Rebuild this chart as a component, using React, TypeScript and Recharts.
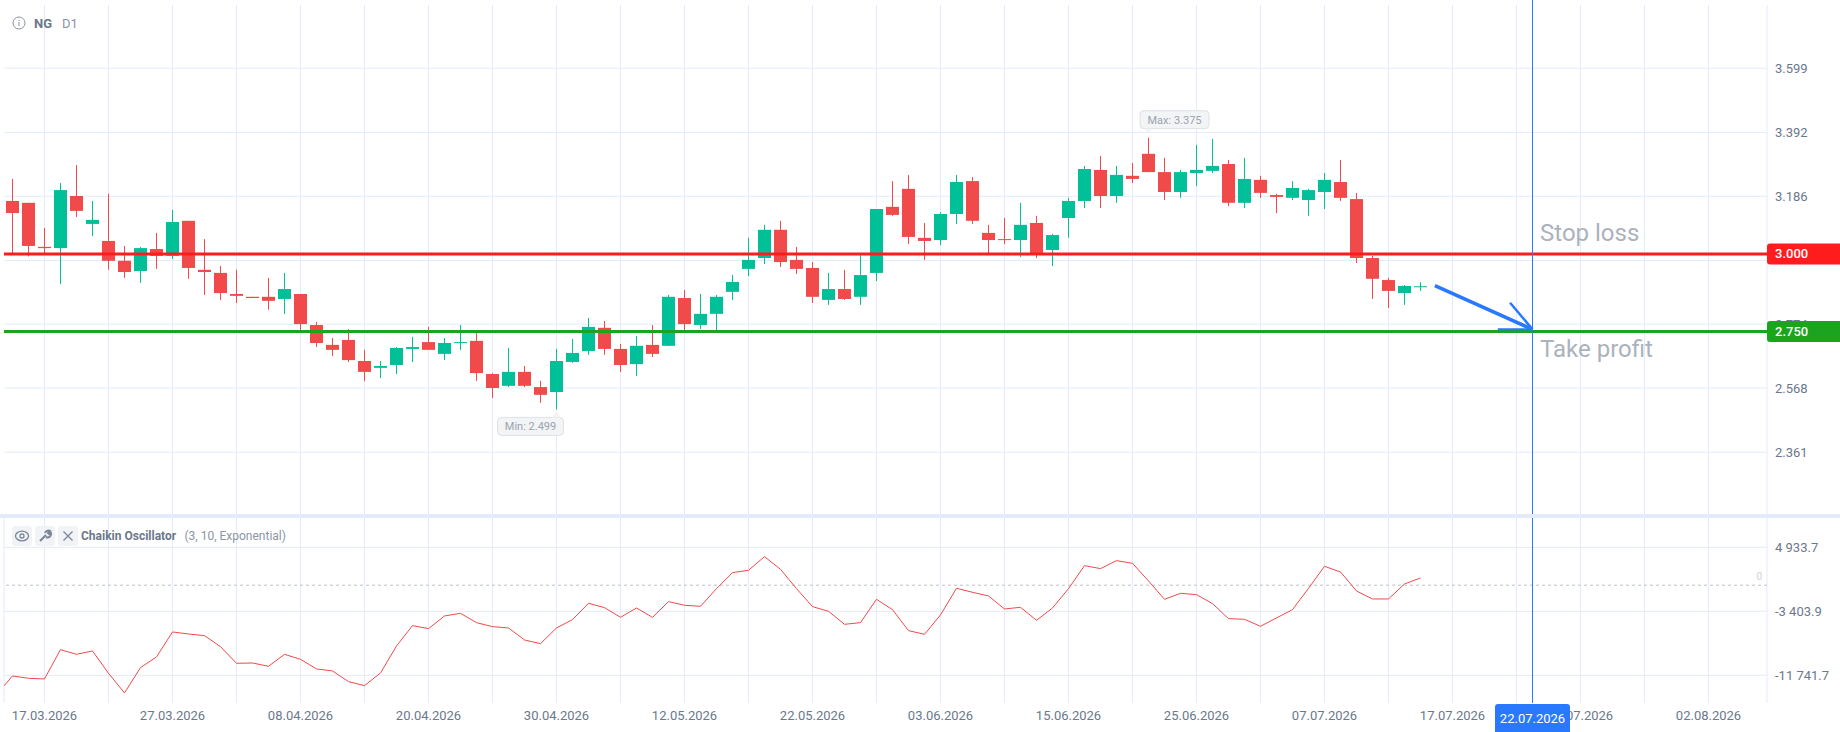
import { Bar, CartesianGrid, ComposedChart, Line, ReferenceDot, ReferenceLine, XAxis, YAxis } from 'recharts';

// candle values, index 0 is the first candle on the left
const opens = [
  3.171, 3.165, 3.023, 3.019, 3.187, 3.097, 3.042, 2.978, 2.945, 3.016, 2.994, 3.107, 2.949, 2.939, 2.871,
  2.862, 2.862, 2.855, 2.871, 2.771, 2.707, 2.723, 2.655, 2.633, 2.642, 2.694, 2.716, 2.678, 2.713, 2.72,
  2.613, 2.575, 2.62, 2.571, 2.555, 2.652, 2.687, 2.762, 2.694, 2.645, 2.707, 2.704, 2.858, 2.771, 2.807,
  2.878, 2.952, 2.987, 3.078, 2.981, 2.955, 2.852, 2.887, 2.862, 2.939, 3.152, 3.21, 3.052, 3.045, 3.129,
  3.235, 3.068, 3.048, 3.045, 3.1, 3.013, 3.116, 3.171, 3.271, 3.187, 3.252, 3.323, 3.264, 3.2, 3.261,
  3.268, 3.29, 3.165, 3.239, 3.19, 3.181, 3.174, 3.2, 3.232, 3.177, 2.987, 2.916, 2.874, 2.893,
];
const closes = [
  3.132, 3.026, 3.019, 3.206, 3.139, 3.11, 2.978, 2.942, 3.019, 2.994, 3.103, 2.955, 2.942, 2.874, 2.865,
  2.858, 2.849, 2.887, 2.774, 2.713, 2.691, 2.658, 2.62, 2.639, 2.697, 2.7, 2.691, 2.713, 2.716, 2.616,
  2.568, 2.62, 2.575, 2.546, 2.655, 2.681, 2.765, 2.694, 2.642, 2.704, 2.678, 2.862, 2.774, 2.807, 2.862,
  2.91, 2.981, 3.078, 2.974, 2.952, 2.862, 2.887, 2.855, 2.932, 3.145, 3.126, 3.055, 3.042, 3.129, 3.232,
  3.107, 3.045, 3.045, 3.094, 3.002, 3.061, 3.171, 3.274, 3.187, 3.255, 3.242, 3.264, 3.2, 3.264, 3.271,
  3.284, 3.165, 3.242, 3.197, 3.184, 3.213, 3.206, 3.239, 3.181, 2.987, 2.92, 2.881, 2.897, 2.896,
];
const highs = [
  3.242, 3.165, 3.084, 3.229, 3.287, 3.171, 3.194, 3.026, 3.023, 3.068, 3.142, 3.107, 3.048, 2.961, 2.949,
  2.862, 2.923, 2.939, 2.871, 2.781, 2.729, 2.758, 2.691, 2.655, 2.7, 2.733, 2.765, 2.729, 2.771, 2.745,
  2.616, 2.697, 2.639, 2.591, 2.694, 2.726, 2.794, 2.784, 2.71, 2.736, 2.771, 2.868, 2.884, 2.871, 2.868,
  2.932, 3.052, 3.094, 3.107, 3.023, 2.974, 2.939, 2.949, 2.997, 3.145, 3.235, 3.255, 3.1, 3.135, 3.255,
  3.248, 3.094, 3.116, 3.165, 3.123, 3.065, 3.181, 3.284, 3.316, 3.284, 3.293, 3.375, 3.31, 3.271, 3.352,
  3.371, 3.303, 3.31, 3.252, 3.194, 3.235, 3.21, 3.261, 3.303, 3.197, 2.994, 2.923, 2.9, 2.909,
];
const lows = [
  3.002, 2.992, 3.002, 2.903, 3.119, 3.058, 2.949, 2.923, 2.907, 2.952, 2.984, 2.92, 2.868, 2.852, 2.842,
  2.858, 2.82, 2.807, 2.755, 2.7, 2.671, 2.652, 2.591, 2.6, 2.613, 2.652, 2.691, 2.658, 2.691, 2.591,
  2.536, 2.571, 2.571, 2.52, 2.499, 2.649, 2.675, 2.675, 2.62, 2.607, 2.668, 2.704, 2.755, 2.758, 2.755,
  2.852, 2.929, 2.968, 2.958, 2.936, 2.842, 2.836, 2.852, 2.836, 2.913, 3.123, 3.032, 2.981, 3.029, 3.097,
  3.097, 3.002, 3.032, 2.99, 2.987, 2.961, 3.052, 3.148, 3.148, 3.165, 3.229, 3.264, 3.174, 3.181, 3.219,
  3.261, 3.155, 3.148, 3.181, 3.132, 3.174, 3.123, 3.145, 3.171, 2.971, 2.855, 2.826, 2.836, 2.881,
];

// first value belongs to the bar just left of the visible area
const oscValues = [
  -14260, -11828, -12132, -12219, -8398, -9006, -8571, -11481, -14043, -10743, -9353, -6096, -6357, -6574, -8007,
  -10178, -10135, -10569, -9006, -9657, -10916, -11177, -12567, -13088, -11438, -7920, -5271, -5662, -4012, -3664,
  -4880, -5401, -5575, -7138, -7616, -5575, -4489, -2362, -2926, -4186, -2970, -4186, -2144, -2622, -2752,
  -451, 1633, 1937, 3718, 2068, -451, -2796, -3404, -5097, -4880, -1841, -3186, -5923, -6400, -3881,
  -408, -929, -1406, -3100, -2883, -4576, -2970, -451, 2545, 2154, 3197, 2849, 548, -1841, -1059,
  -1233, -2405, -4359, -4446, -5358, -4272, -3186, -408, 2459, 1720, -755, -1797, -1797, 157, 939,
];

const priceTicks = [3.599, 3.392, 3.186, 2.979, 2.774, 2.568, 2.361];
const hiddenPriceTick = 2.979; // sits behind the stop loss tag in the original
const oscTicks = [4933.7, -3403.9, -11741.7];
const oscTickLabels = ['4 933.7', '-3 403.9', '-11 741.7'];

const gridTicks = [2, 6, 10, 14, 18, 22, 26, 30, 34, 38, 42, 46, 50, 54, 58, 62, 66, 70, 74, 78, 82, 86, 90, 94, 98, 102, 106];
const dateTicks = [2, 10, 18, 26, 34, 42, 50, 58, 66, 74, 82, 90, 98, 106];
const dateLabels = [
  '17.03.2026', '27.03.2026', '08.04.2026', '20.04.2026', '30.04.2026', '12.05.2026', '22.05.2026',
  '03.06.2026', '15.06.2026', '25.06.2026', '07.07.2026', '17.07.2026', '27.07.2026', '02.08.2026',
];

const stopLoss = 3.0;
const takeProfit = 2.75;
const maxIndex = 71;
const minIndex = 34;
const cursorIndex = 95;

const X_DOMAIN: [number, number] = [-0.53125, 109.65625];
const PRICE_DOMAIN: [number, number] = [2.1618, 3.8027];
const OSC_DOMAIN: [number, number] = [-15350, 8751];

const GRID = '#E3EAF9';
const RED = '#F14A4A';
const GREEN = '#00BF99';
const BLUE = '#2979FF';
const TEXT = '#6B788C';
const FONT = 'Roboto, sans-serif';
const TOP_LAYER = 3000;

const candles = opens.map((o, i) => ({
  i,
  body: [Math.min(o, closes[i]), Math.max(o, closes[i])],
  wick: [lows[i], highs[i]],
  up: closes[i] >= o,
}));
const oscData = oscValues.map((osc, k) => ({ i: k - 1, osc }));

const CandlePart = (props: any) => {
  const { x, y, width, height, payload } = props;
  return <rect x={x + 0.5} y={y} width={width} height={Math.max(height, 1)} fill={payload.up ? GREEN : RED} />;
};

const PriceTag = ({ cx, cy, fill, text }: any) => (
  <g>
    <rect x={cx} y={cy - 10.5} width={80} height={21} rx={3} fill={fill} />
    <text x={cx + 8} y={cy + 4.5} fontSize={13} fontWeight={500} fontFamily={FONT} fill="#fff">{text}</text>
  </g>
);

const Bubble = ({ left, top, tipX, tipY, width, text }: any) => (
  <g>
    <rect x={left} y={top} width={width} height={18} rx={4} fill="#F3F4F6" stroke="#DDE0E5" />
    <path d={`M${tipX - 4} ${tipY > top ? top + 18 : top} L${tipX} ${tipY} L${tipX + 4} ${tipY > top ? top + 18 : top} Z`} fill="#F3F4F6" />
    <text x={left + width / 2} y={top + 13} textAnchor="middle" fontSize={11} fontFamily={FONT} fill="#9AA3AE">{text}</text>
  </g>
);

const Note = ({ cx, cy, text }: any) => (
  <text x={cx} y={cy} dominantBaseline="central" fontSize={24} fontFamily={FONT} fill="#ABB2BD">{text}</text>
);

const IconBox = ({ left, children }: any) => (
  <div style={{ position: 'absolute', left, top: 526, width: 20, height: 20, background: '#F1F3F6', borderRadius: 3 }}>
    <svg width={20} height={20} viewBox="0 0 20 20" fill="none" stroke="#7B8798" strokeWidth={1.3}>{children}</svg>
  </div>
);

export default function App() {
  return (
    <div style={{ position: 'absolute', left: 0, top: 0, width: 1840, height: 732, background: '#fff', overflow: 'hidden', fontFamily: FONT }}>
      <div style={{ position: 'absolute', left: 0, top: 0 }}>
        <ComposedChart width={1840} height={514} data={candles} margin={{ top: 5, right: 0, bottom: 0, left: 4 }}>
          <CartesianGrid stroke={GRID} xAxisId="body" syncWithTicks />
          <XAxis xAxisId="body" type="number" dataKey="i" domain={X_DOMAIN} ticks={[X_DOMAIN[0], ...gridTicks, X_DOMAIN[1]]} allowDataOverflow hide />
          <XAxis xAxisId="wick" type="number" dataKey="i" domain={X_DOMAIN} ticks={gridTicks} allowDataOverflow hide />
          <YAxis
            orientation="right"
            width={73}
            domain={PRICE_DOMAIN}
            ticks={priceTicks}
            interval={0}
            allowDataOverflow
            axisLine={false}
            tickLine={false}
            tick={{ fill: TEXT, fontSize: 13, fontFamily: FONT }}
            tickFormatter={(v: number) => (v === hiddenPriceTick ? '' : v.toFixed(3))}
          />
          <Bar xAxisId="wick" dataKey="wick" barSize={1} shape={CandlePart} isAnimationActive={false} />
          <Bar xAxisId="body" dataKey="body" barSize={13} shape={CandlePart} isAnimationActive={false} />

          <ReferenceLine xAxisId="body" y={stopLoss} stroke="#FF1C1C" strokeWidth={3} />
          <ReferenceLine xAxisId="body" y={takeProfit} stroke="#1CA31F" strokeWidth={3} />
          <ReferenceLine xAxisId="body" ifOverflow="visible" segment={[{ x: cursorIndex, y: 3.8188 }, { x: cursorIndex, y: PRICE_DOMAIN[0] }]} stroke={BLUE} />

          <ReferenceLine xAxisId="body" segment={[{ x: 88.9, y: 2.898 }, { x: cursorIndex, y: 2.757 }]} stroke={BLUE} strokeWidth={3.5} />
          <ReferenceLine xAxisId="body" segment={[{ x: 93.6, y: 2.843 }, { x: cursorIndex, y: 2.757 }]} stroke={BLUE} strokeWidth={2.5} />
          <ReferenceLine xAxisId="body" segment={[{ x: 92.83, y: 2.757 }, { x: cursorIndex, y: 2.757 }]} stroke={BLUE} strokeWidth={2} />

          <ReferenceDot xAxisId="body" x={95.47} y={3.068} r={0} ifOverflow="visible" shape={(p: any) => <Note cx={p.cx} cy={p.cy} text="Stop loss" />} />
          <ReferenceDot xAxisId="body" x={95.47} y={2.694} r={0} ifOverflow="visible" shape={(p: any) => <Note cx={p.cx} cy={p.cy} text="Take profit" />} />

          <ReferenceDot
            xAxisId="body"
            x={maxIndex}
            y={highs[maxIndex]}
            r={0}
            shape={(p: any) => <Bubble left={p.cx - 8.5} top={p.cy - 27} tipX={p.cx} tipY={p.cy - 4} width={69} text="Max: 3.375" />}
          />
          <ReferenceDot
            xAxisId="body"
            x={minIndex}
            y={lows[minIndex]}
            r={0}
            shape={(p: any) => <Bubble left={p.cx - 59} top={p.cy + 8} tipX={p.cx} tipY={p.cy + 1} width={66} text="Min: 2.499" />}
          />

          <ReferenceDot xAxisId="body" x={X_DOMAIN[1]} y={stopLoss} r={0} ifOverflow="visible" zIndex={TOP_LAYER} shape={(p: any) => <PriceTag cx={p.cx} cy={p.cy} fill="#FF1C1C" text="3.000" />} />
          <ReferenceDot xAxisId="body" x={X_DOMAIN[1]} y={takeProfit} r={0} ifOverflow="visible" zIndex={TOP_LAYER} shape={(p: any) => <PriceTag cx={p.cx} cy={p.cy} fill="#1CA31F" text="2.750" />} />
        </ComposedChart>
      </div>

      <div style={{ position: 'absolute', left: 0, top: 514, width: 1840, height: 4, background: '#E3EAFA' }} />

      <div style={{ position: 'absolute', left: 0, top: 518 }}>
        <ComposedChart width={1840} height={214} data={oscData} margin={{ top: 0, right: 0, bottom: 0, left: 4 }}>
          <CartesianGrid stroke={GRID} syncWithTicks />
          <XAxis
            type="number"
            dataKey="i"
            domain={X_DOMAIN}
            ticks={[X_DOMAIN[0], ...gridTicks, X_DOMAIN[1]]}
            interval={0}
            allowDataOverflow
            height={29}
            axisLine={false}
            tickLine={false}
            tick={{ fill: TEXT, fontSize: 13, fontFamily: FONT }}
            tickFormatter={(v: number) => dateLabels[dateTicks.indexOf(v)] ?? ''}
          />
          <YAxis
            orientation="right"
            width={73}
            domain={OSC_DOMAIN}
            ticks={oscTicks}
            interval={0}
            allowDataOverflow
            axisLine={false}
            tickLine={false}
            tick={{ fill: TEXT, fontSize: 13, fontFamily: FONT }}
            tickFormatter={(v: number) => oscTickLabels[oscTicks.indexOf(v)]}
          />
          <ReferenceLine
            y={0}
            stroke="#BDC1C7"
            strokeDasharray="3 3"
            label={{ value: '0', position: 'insideBottomRight', fill: '#CCD0D6', fontSize: 10, fontFamily: FONT }}
          />
          <Line dataKey="osc" stroke={RED} strokeWidth={1} dot={false} isAnimationActive={false} />
          <ReferenceLine x={cursorIndex} stroke={BLUE} />
          <ReferenceDot
            x={cursorIndex}
            y={OSC_DOMAIN[0]}
            r={0}
            ifOverflow="visible"
            zIndex={TOP_LAYER}
            shape={(p: any) => (
              <g>
                <rect x={p.cx - 37.5} y={p.cy + 1} width={75} height={34} rx={3} fill={BLUE} />
                <text x={p.cx} y={p.cy + 20} textAnchor="middle" fontSize={13} fontFamily={FONT} fill="#fff">22.07.2026</text>
              </g>
            )}
          />
        </ComposedChart>
      </div>

      <svg style={{ position: 'absolute', left: 12, top: 16 }} width={14} height={14} viewBox="0 0 14 14" fill="none" stroke="#8A95A5" strokeWidth={1}>
        <circle cx={7} cy={7} r={6} />
        <path d="M7 6v4M7 4v1" />
      </svg>
      <div style={{ position: 'absolute', left: 34, top: 16, fontSize: 13, lineHeight: '16px', color: TEXT, fontWeight: 700 }}>NG</div>
      <div style={{ position: 'absolute', left: 62, top: 16, fontSize: 13, lineHeight: '16px', color: '#8A95A5' }}>D1</div>

      <IconBox left={12}>
        <ellipse cx={10} cy={10} rx={6.5} ry={4.8} />
        <circle cx={10} cy={10} r={2} />
      </IconBox>
      <IconBox left={35}>
        <path d="M5 15l6-6M10 7a3.5 3.5 0 0 1 5-2l-2 2 1 1 2-1a3.5 3.5 0 0 1-5 4" strokeWidth={2} />
      </IconBox>
      <IconBox left={58}>
        <path d="M5.5 5.5l9 9M14.5 5.5l-9 9" />
      </IconBox>
      <div style={{ position: 'absolute', left: 81, top: 528, fontSize: 12, lineHeight: '16px', color: TEXT, fontWeight: 700 }}>Chaikin Oscillator</div>
      <div style={{ position: 'absolute', left: 184.5, top: 528, fontSize: 12, lineHeight: '16px', color: '#8A95A5' }}>(3, 10, Exponential)</div>
    </div>
  );
}
